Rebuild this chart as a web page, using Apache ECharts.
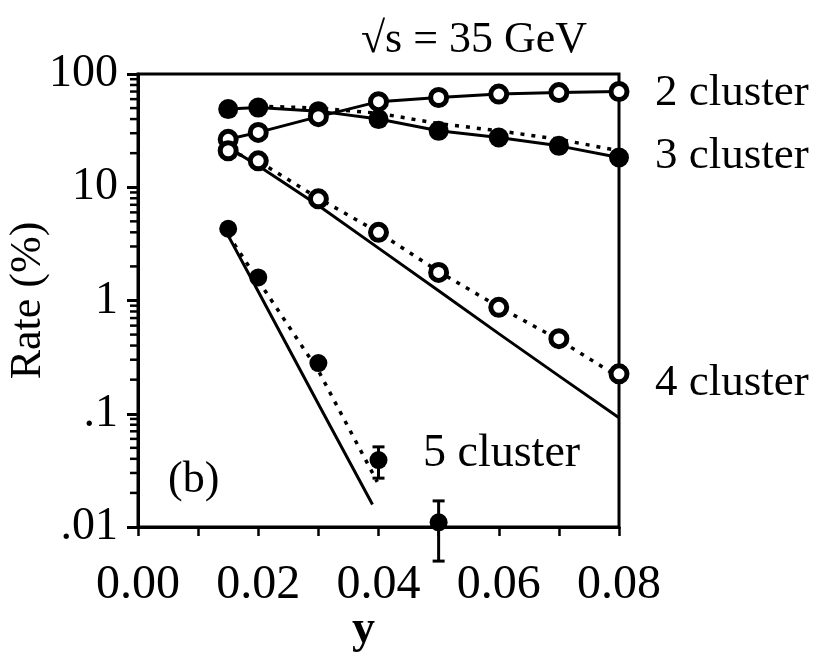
<!DOCTYPE html>
<html>
<head>
<meta charset="utf-8">
<script src="https://cdn.jsdelivr.net/npm/echarts@6/dist/echarts.min.js"></script>
<style>
  html, body { margin: 0; padding: 0; background: #fff; }
  #chart { width: 819px; height: 664px; }
</style>
</head>
<body>
<div id="chart"></div>
<script>
// jet resolution parameter y
const yCut = [0.015, 0.02, 0.03, 0.04, 0.05, 0.06, 0.07, 0.08];

// measured cluster rates (%)
const rate2 = [26.5, 30.5, 42, 57, 62, 66.5, 68.5, 70];
const rate3 = [49, 50.5, 47, 40, 31.5, 27.5, 23.2, 18.3];
const rate4 = [21, 17.1, 7.9, 4.0, 1.77, 0.87, 0.46, 0.225];
const yCut5 = [0.015, 0.02, 0.03, 0.04, 0.05];
const rate5 = [4.3, 1.6, 0.28, 0.039, 0.011];
const err5 = [0, 0, 0, 0.012, 0.006];

// model curves: solid and dashed
const solid2 = [26.5, 30.5, 42, 57, 62, 66.5, 68.5, 70];
const solid3 = [49, 50.5, 47, 40, 31.5, 27.5, 23.2, 18.3];
const dashX3 = [0.02, 0.03, 0.04, 0.05, 0.06, 0.07, 0.08];
const dash3 = [52, 50, 45, 36.5, 31.5, 26.5, 21];
const solid4 = [22.5, 15.5, 6.9, 2.9, 1.22, 0.51, 0.216, 0.092];
const dash4 = [21, 17, 8.0, 4.0, 1.8, 0.88, 0.45, 0.21];
const solidX5 = [0.015, 0.02, 0.03, 0.039];
const solid5 = [3.74, 1.2, 0.122, 0.0158];
const dashX5 = [0.015, 0.02, 0.03, 0.0398];
const dash5 = [3.8, 1.5, 0.24, 0.025];

// axis tick labels
const xTickLabels = ['0.00', '0.02', '0.04', '0.06', '0.08'];
const yTickLabels = ['.01', '.1', '1', '10', '100'];
const yMinorTicks = [];
[0.01, 0.1, 1, 10].forEach(d => { for (let m = 2; m <= 9; m++) yMinorTicks.push(+(m * d).toPrecision(3)); });

const FONT = "'Liberation Serif', 'Times New Roman', serif";
const pairs = (xs, ys) => xs.map((x, i) => [x, ys[i]]);

function lineSeries(xs, ys, dashed) {
  return {
    type: 'line', data: pairs(xs, ys), showSymbol: false, silent: true, z: 2,
    lineStyle: { color: '#000', opacity: 1, width: dashed ? 3.5 : 3, type: dashed ? [4, 7] : 'solid' }
  };
}
function pointSeries(xs, ys, open, size) {
  return {
    type: 'scatter', data: pairs(xs, ys), symbol: 'circle', symbolSize: size || (open ? 16 : 20), z: 5,
    itemStyle: open
      ? { color: '#fff', borderColor: '#000', borderWidth: 5, opacity: 1 }
      : { color: '#000', opacity: 1 }
  };
}

const chart = echarts.init(document.getElementById('chart'));
chart.setOption({
  animation: false,
  grid: {
    left: 138, top: 74, width: 481, height: 453, outerBoundsMode: 'none', containLabel: false,
    show: true, borderColor: '#000', borderWidth: 3
  },
  xAxis: {
    type: 'value', min: 0, max: 0.08, interval: 0.02,
    name: 'y', nameLocation: 'middle', nameGap: 80, nameMoveOverlap: false,
    nameTextStyle: { fontFamily: FONT, fontSize: 46, fontWeight: 'bold', color: '#000', padding: [0, 30, 0, 0] },
    axisLine: { lineStyle: { color: '#000', width: 3 } },
    axisTick: { length: 9, lineStyle: { color: '#000', width: 2.5 } },
    minorTick: { show: true, splitNumber: 2, length: 9, lineStyle: { color: '#000', width: 2.5 } },
    splitLine: { show: false },
    axisLabel: { margin: 34, fontFamily: FONT, fontSize: 48, color: '#000', formatter: (v, i) => xTickLabels[i] }
  },
  yAxis: {
    type: 'log', logBase: 10, min: 0.01, max: 100,
    name: 'Rate (%)', nameLocation: 'middle', nameGap: 88, nameMoveOverlap: false,
    nameTextStyle: { fontFamily: FONT, fontSize: 44, color: '#000' },
    axisLine: { lineStyle: { color: '#000', width: 3 } },
    axisTick: { length: 11, lineStyle: { color: '#000', width: 3 } },
    splitLine: { show: false },
    axisLabel: { margin: 20, fontFamily: FONT, fontSize: 46, color: '#000', formatter: (v, i) => yTickLabels[i] }
  },
  graphic: [
    { type: 'text', x: 474, y: 40, style: { text: '\u221As = 35 GeV', font: '44px ' + FONT, fill: '#000', align: 'center', verticalAlign: 'middle' } },
    { type: 'text', x: 655, y: 93, style: { text: '2 cluster', font: '45px ' + FONT, fill: '#000', align: 'left', verticalAlign: 'middle' } },
    { type: 'text', x: 655, y: 156, style: { text: '3 cluster', font: '45px ' + FONT, fill: '#000', align: 'left', verticalAlign: 'middle' } },
    { type: 'text', x: 655, y: 383, style: { text: '4 cluster', font: '45px ' + FONT, fill: '#000', align: 'left', verticalAlign: 'middle' } },
    { type: 'text', x: 423, y: 454, style: { text: '5 cluster', font: '46px ' + FONT, fill: '#000', align: 'left', verticalAlign: 'middle' } },
    { type: 'text', x: 168, y: 480, style: { text: '(b)', font: '44px ' + FONT, fill: '#000', align: 'left', verticalAlign: 'middle' } }
  ],
  series: [
    lineSeries(yCut, solid2, false),
    lineSeries(yCut, solid3, false),
    lineSeries(dashX3, dash3, true),
    lineSeries(yCut, solid4, false),
    lineSeries(yCut, dash4, true),
    lineSeries(solidX5, solid5, false),
    lineSeries(dashX5, dash5, true),
    // error bars on the 5 cluster rate
    {
      type: 'custom', data: yCut5.map((x, i) => [x, rate5[i], err5[i]]).filter(d => d[2] > 0),
      clip: false, silent: true, z: 4,
      renderItem: (params, api) => {
        const x = api.value(0), v = api.value(1), e = api.value(2);
        const hi = api.coord([x, v + e]), lo = api.coord([x, v - e]);
        const st = { stroke: '#000', lineWidth: 3 };
        return { type: 'group', children: [
          { type: 'line', shape: { x1: hi[0], y1: hi[1], x2: lo[0], y2: lo[1] }, style: st },
          { type: 'line', shape: { x1: hi[0] - 6, y1: hi[1], x2: hi[0] + 6, y2: hi[1] }, style: st },
          { type: 'line', shape: { x1: lo[0] - 6, y1: lo[1], x2: lo[0] + 6, y2: lo[1] }, style: st }
        ] };
      }
    },
    // minor ticks of the logarithmic axis (2..9 in each decade), pointing outward
    {
      type: 'custom', data: [[0.04, 1]], clip: false, silent: true, z: 12,
      renderItem: (params, api) => ({
        type: 'group',
        children: yMinorTicks.map(t => {
          const p = api.coord([0, t]);
          return { type: 'line', shape: { x1: p[0] - 8, y1: p[1], x2: p[0], y2: p[1] }, style: { stroke: '#000', lineWidth: 2.5 } };
        })
      })
    },
    pointSeries(yCut, rate3, false),
    pointSeries(yCut, rate2, true),
    pointSeries(yCut, rate4, true),
    pointSeries(yCut5, rate5, false, 18)
  ]
});
</script>
</body>
</html>
